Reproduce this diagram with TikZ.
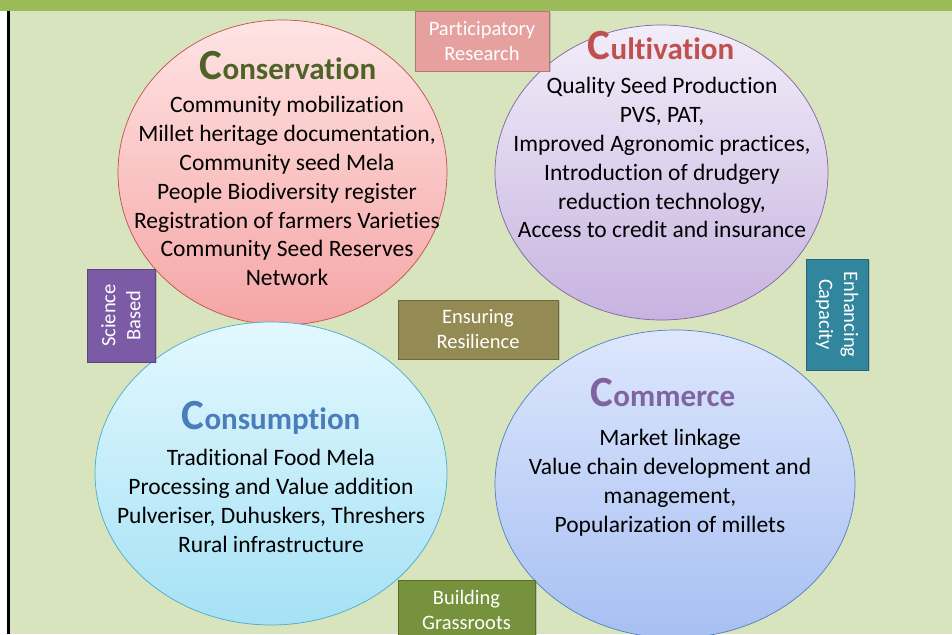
\documentclass[tikz,border=0pt]{standalone}
\usepackage{fontspec}
\setmainfont{Carlito}[Ligatures=NoCommon]
\usetikzlibrary{shapes.geometric,shadows}

\definecolor{bandgreen}{HTML}{9BBB59}
\definecolor{paper}{HTML}{D7E4BD}
\definecolor{conedge}{HTML}{C0504D}
\definecolor{conhi}{HTML}{FFE4E4}
\definecolor{conlo}{HTML}{F5A5A5}
\definecolor{cultedge}{HTML}{8064A2}
\definecolor{culthi}{HTML}{F2EDF9}
\definecolor{cultlo}{HTML}{C7B3E0}
\definecolor{cnsmedge}{HTML}{4BACC6}
\definecolor{cnsmhi}{HTML}{E3F8FE}
\definecolor{cnsmlo}{HTML}{A5E1F5}
\definecolor{commedge}{HTML}{4F81BD}
\definecolor{commhi}{HTML}{DDE7FD}
\definecolor{commlo}{HTML}{A7BFF2}
\definecolor{contitle}{HTML}{4F6228}
\definecolor{culttitle}{HTML}{C0504D}
\definecolor{cnsmtitle}{HTML}{4A7EBB}
\definecolor{commtitle}{HTML}{8064A2}
\definecolor{tagpink}{HTML}{E6A19F}
\definecolor{tagviolet}{HTML}{7B5BA6}
\definecolor{tagolive}{HTML}{948A54}
\definecolor{tagteal}{HTML}{31859C}
\definecolor{taggreen}{HTML}{76923C}

\newcommand{\bigC}{{\fontsize{43}{43}\selectfont C}}

\begin{document}
\begin{tikzpicture}[x=1pt,y=1pt,
  ring/.style={ellipse, draw, line width=0.7pt, inner sep=0pt},
  tag/.style={rectangle, inner sep=0pt, align=center, text=white,
    font=\fontsize{20.5}{25}\selectfont,
    drop shadow={shadow xshift=1.5pt, shadow yshift=-1.5pt, opacity=0.35}},
  head/.style={anchor=base, font=\fontsize{31}{36}\selectfont\bfseries},
  body/.style={anchor=base, align=center, font=\fontsize{23.5}{28.8}\selectfont}]

  \useasboundingbox (0,0) rectangle (952,634);
  \fill[paper] (10,0) rectangle (952,623);
  \fill[bandgreen] (0,623) rectangle (952,634);
  \fill[black] (7,0) rectangle (10,623);

  \node[ring, draw=conedge, top color=conhi, bottom color=conlo,
    minimum width=329, minimum height=305] (cons) at (282.5,461.5) {};
  \node[ring, draw=cultedge, top color=culthi, bottom color=cultlo,
    minimum width=333, minimum height=295] (cult) at (661.5,461.5) {};
  \node[ring, draw=cnsmedge, top color=cnsmhi, bottom color=cnsmlo,
    minimum width=352, minimum height=303] (cnsm) at (271,160.5) {};
  \node[ring, draw=commedge, top color=commhi, bottom color=commlo,
    minimum width=360, minimum height=308] (comm) at (675,150) {};

  \node[head, text=contitle] (consHead) at (288,554) {\bigC onservation};
  \node[body] (consBody) at (287,348.2) {Community mobilization\\
    Millet heritage documentation,\\
    Community seed Mela\\
    People Biodiversity register\\
    Registration of farmers Varieties\\
    Community Seed Reserves\\
    Network};

  \node[head, text=culttitle] (cultHead) at (661,574) {\bigC ultivation};
  \node[body] (cultBody) at (662,396) {Quality Seed Production\\
    PVS, PAT,\\
    Improved Agronomic practices,\\
    Introduction of drudgery\\
    reduction technology,\\
    Access to credit and insurance};

  \node[head, text=cnsmtitle] (cnsmHead) at (271,204) {\bigC onsumption};
  \node[body] (cnsmBody) at (271,81.6) {Traditional Food Mela\\
    Processing and Value addition\\
    Pulveriser, Duhuskers, Threshers\\
    Rural infrastructure};

  \node[head, text=commtitle] (commHead) at (663,227) {\bigC ommerce};
  \node[body] (commBody) at (670,101.6) {Market linkage\\
    Value chain development and\\
    management,\\
    Popularization of millets};

  \node[tag, fill=tagpink, draw=tagpink!75!black, minimum width=134, minimum height=60]
    (partic) at (482,593) {Participatory\\Research};
  \node[tag, fill=tagviolet, draw=tagviolet!75!black, rotate=90, minimum width=93, minimum height=68]
    (science) at (121,318.5) {Science\\Based};
  \node[tag, fill=tagolive, draw=tagolive!75!black, minimum width=160, minimum height=59]
    (resil) at (478,304.5) {Ensuring\\Resilience};
  \node[tag, fill=tagteal, draw=tagteal!75!black, rotate=-90, minimum width=111, minimum height=62]
    (capac) at (837,319.5) {Enhancing\\Capacity};
  \node[tag, fill=taggreen, draw=taggreen!75!black, minimum width=137, minimum height=60]
    (grass) at (466.5,24) {Building\\Grassroots};

\end{tikzpicture}
\end{document}
